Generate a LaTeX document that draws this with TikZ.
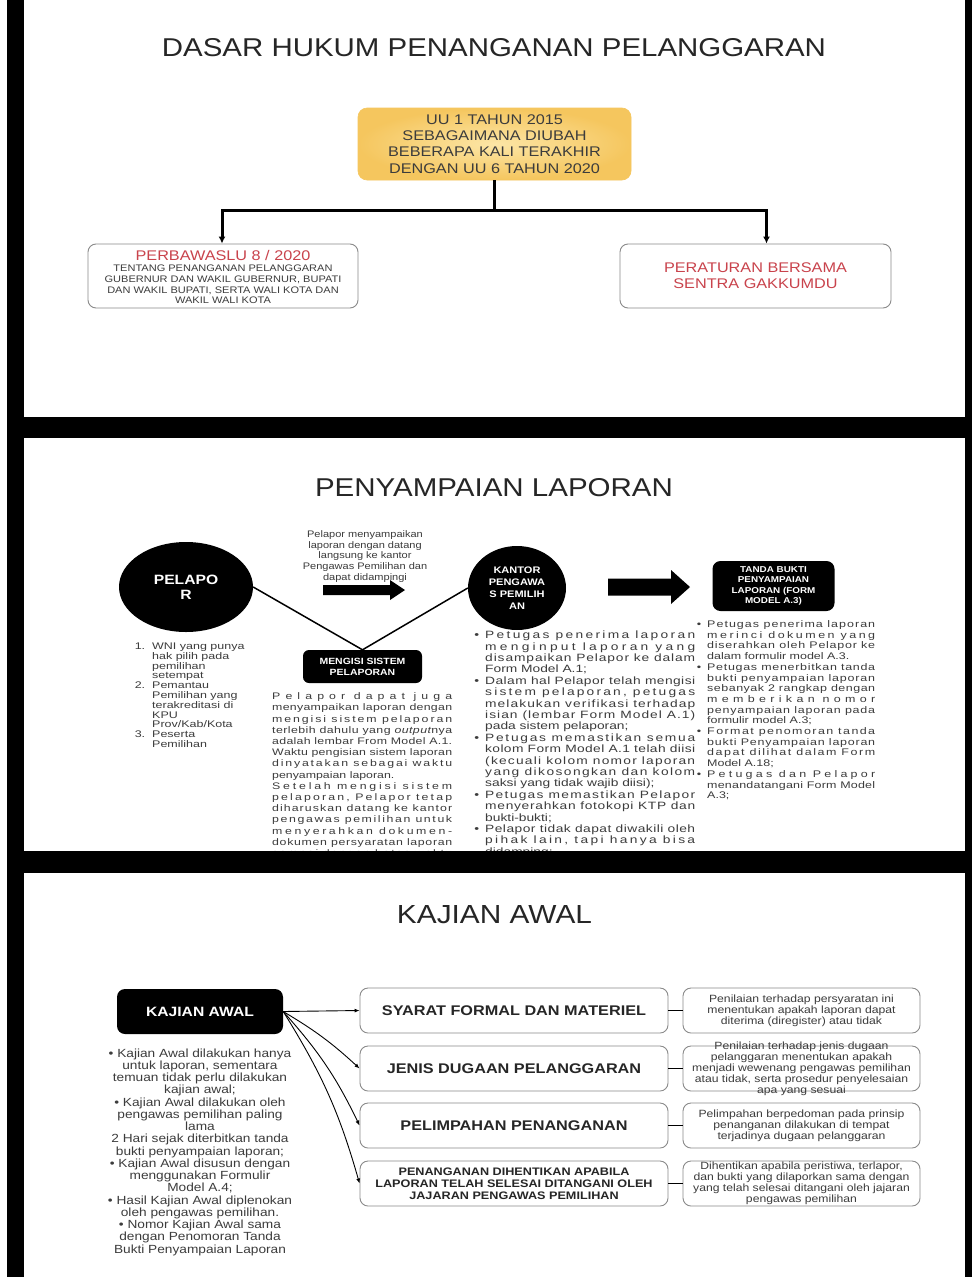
\documentclass[tikz,border=0pt]{standalone}
\usepackage{fontspec}
\usepackage{graphicx}
\setmainfont[FakeStretch=1.16]{Liberation Sans}
\newfontfamily\bodyf[FakeStretch=1.3]{Liberation Sans}
\usetikzlibrary{arrows.meta,shapes.geometric}
\definecolor{txt}{HTML}{3C3C3C}
\definecolor{ttl}{HTML}{262626}
\definecolor{redt}{HTML}{C9434C}
\definecolor{bord}{HTML}{8A8A8A}
\definecolor{yin}{HTML}{FCE6A6}
\definecolor{yout}{HTML}{F5C65E}
\newcommand\fsz[2]{\fontsize{#1}{#2}\selectfont}
\newlength\colw
\XeTeXinterchartoks 0 0 = {\hfil}
\XeTeXinterchartoks 0 4095 = {\hfil}
\newcommand\J[1]{\hbox to\colw{\XeTeXinterchartokenstate=1\relax#1\unskip}}
\newcommand\N[1]{\hbox to\colw{#1\hfil}}
\newcommand\BJ[1]{\hbox to\colw{\llap{\textbullet\hskip6pt}\XeTeXinterchartokenstate=1\relax#1\unskip}}
\newcommand\BN[1]{\hbox to\colw{\llap{\textbullet\hskip6pt}#1\hfil}}
\newcommand\NL[2]{\hbox to\colw{\llap{#1\hskip7pt}#2\hfil}}
\newcommand\ttlbox[3]{\resizebox{#1pt}{#2pt}{\fsz{25}{25}#3}}
\begin{document}
\begin{tikzpicture}[x=1pt,y=-1pt,
  wbox/.style={draw=bord,line width=0.9pt,rounded corners=8pt,fill=white,inner sep=0pt},
  bbox/.style={fill=black,rounded corners=6pt,inner sep=0pt,text=white,align=center},
  ball/.style={ellipse,fill=black,inner sep=0pt,text=white,align=center},
  para/.style={anchor=base west,inner sep=0pt,text=txt},
  ctext/.style={inner sep=0pt,text=txt,align=center},
  title/.style={inner sep=0pt,text=ttl},
  stem/.style={line width=3pt},
  tarrow/.style={line width=3pt,-{Latex[length=7pt,width=7pt]}},
  karrow/.style={line width=0.9pt,-{Latex[length=5pt,width=4pt]}},
  link/.style={line width=1.2pt},
  vline/.style={line width=1.5pt},
  midbox/.style={wbox,minimum width=308pt,minimum height=45pt,text=ttl,font=\fsz{14}{16}\bfseries},
  rbox/.style={wbox,minimum width=237pt,minimum height=45pt},
  rtext/.style={ctext,font=\fsz{10.5}{11}}]

\useasboundingbox (0,0) rectangle (972,1277);
\fill[white] (0,0) rectangle (972,1277);
\fill[black] (7,0) rectangle (972,1277);
\fill[white] (24,0) rectangle (965,417);
\fill[white] (24,438) rectangle (965,851);
\fill[white] (24,873) rectangle (965,1277);

% ---------- top panel
\node[title] (t1) at (494,47.5) {\ttlbox{664}{18}{DASAR HUKUM PENANGANAN PELANGGARAN}};
\node[rounded corners=9pt,inner color=yin,outer color=yout,draw=yout,line width=0.6pt,
      minimum width=273pt,minimum height=72pt,inner sep=0pt,align=center,text=txt,
      font=\fsz{14}{16.3}] (uu) at (494.5,144)
      {UU 1 TAHUN 2015\\SEBAGAIMANA DIUBAH\\BEBERAPA KALI TERAKHIR\\DENGAN UU 6 TAHUN 2020};
\node[wbox,minimum width=270pt,minimum height=64pt] (perb) at (223,276) {};
\node[inner sep=0pt,text=redt,font=\fsz{14}{16}] (perbt) at (223,255) {PERBAWASLU 8 / 2020};
\node[ctext,font=\fsz{9.5}{10.7}] (perbs) at (223,284.5)
      {TENTANG PENANGANAN PELANGGARAN\\GUBERNUR DAN WAKIL GUBERNUR, BUPATI\\DAN WAKIL BUPATI, SERTA WALI KOTA DAN\\WAKIL WALI KOTA};
\node[wbox,minimum width=271pt,minimum height=64pt,text=redt,align=center,font=\fsz{14}{16}] (pb) at (755.5,276)
      {PERATURAN BERSAMA\\SENTRA GAKKUMDU};
\coordinate (j) at (494.5,210);
\draw[stem] (uu.south) -- (j);
\draw[tarrow] (j) -| ([xshift=-1pt]perb.north);
\draw[tarrow] (j) -| ([xshift=11pt]pb.north);

% ---------- middle panel
\node[title] (t2) at (494,488) {\ttlbox{358}{18}{PENYAMPAIAN LAPORAN}};
\node[ball,minimum width=134pt,minimum height=90pt,font=\fsz{13.5}{15}\bfseries] (pel) at (186,587) {PELAPO\\R};
\node[ball,minimum width=98pt,minimum height=84pt,font=\fsz{9.5}{12}\bfseries] (kan) at (517,588) {KANTOR\\PENGAWA\\S PEMILIH\\AN};
\node[bbox,minimum width=119pt,minimum height=33pt,font=\fsz{9}{11}\bfseries] (mengisi) at (362.5,666.5) {MENGISI SISTEM\\PELAPORAN};
\node[bbox,rounded corners=8pt,minimum width=122pt,minimum height=50pt,font=\fsz{8.5}{10.5}\bfseries] (tanda) at (773.5,586)
      {TANDA BUKTI\\PENYAMPAIAN\\LAPORAN (FORM\\MODEL A.3)};
\draw[vline] (pel.east) -- (mengisi.north) -- (kan.west);
\node[ctext,font=\fsz{9.5}{10.8}] (lang) at (365,556.5)
      {Pelapor menyampaikan\\laporan dengan datang\\langsung ke kantor\\Pengawas Pemilihan dan\\dapat didampingi};
\fill (323,585) -- (390,585) -- (390,580) -- (405,590) -- (390,600) -- (390,595) -- (323,595) -- cycle;
\fill (608,578.5) -- (671,578.5) -- (671,570) -- (690,587) -- (671,604) -- (671,595.5) -- (608,595.5) -- cycle;

\node[para,font=\bodyf\fsz{9.6}{9.8}] (plist) at (152,649.5) {\setlength\colw{100pt}\vtop{\lineskiplimit=-100pt
  \NL{1.}{WNI yang punya}\NL{}{hak pilih pada}\NL{}{pemilihan}\NL{}{setempat}
  \NL{2.}{Pemantau}\NL{}{Pemilihan yang}\NL{}{terakreditasi di}\NL{}{KPU}\NL{}{Prov/Kab/Kota}
  \NL{3.}{Peserta}\NL{}{Pemilihan}}};

\node[para,font=\bodyf\fsz{9.5}{11.2}] (mpar) at (272,699.6) {\setlength\colw{180pt}\vtop{\lineskiplimit=-100pt
  \J{Pelapor dapat juga}\J{menyampaikan laporan dengan}\J{mengisi sistem pelaporan}
  \J{terlebih dahulu yang \textit{output}nya}\J{adalah lembar From Model A.1.}
  \J{Waktu pengisian sistem laporan}\J{dinyatakan sebagai waktu}\N{penyampaian laporan.}
  \J{Setelah mengisi sistem}\J{pelaporan, Pelapor tetap}\J{diharuskan datang ke kantor}
  \J{pengawas pemilihan untuk}\J{menyerahkan dokumen-}\J{dokumen persyaratan laporan}
  \J{sampai dengan batas waktu}}};

\node[para,font=\bodyf\fsz{10.6}{11.4}] (kpar) at (485,638.6) {\setlength\colw{210pt}\vtop{\lineskiplimit=-100pt
  \BJ{Petugas penerima laporan}\J{menginput laporan yang}\J{disampaikan Pelapor ke dalam}\N{Form Model A.1;}
  \BJ{Dalam hal Pelapor telah mengisi}\J{sistem pelaporan, petugas}\J{melakukan verifikasi terhadap}
  \J{isian (lembar Form Model A.1)}\N{pada sistem pelaporan;}
  \BJ{Petugas memastikan semua}\J{kolom Form Model A.1 telah diisi}\J{(kecuali kolom nomor laporan}
  \J{yang dikosongkan dan kolom}\N{saksi yang tidak wajib diisi);}
  \BJ{Petugas memastikan Pelapor}\J{menyerahkan fotokopi KTP dan}\N{bukti-bukti;}
  \BJ{Pelapor tidak dapat diwakili oleh}\J{pihak lain, tapi hanya bisa}\N{didamping;}}};

\node[para,font=\bodyf\fsz{9.6}{10.7}] (tpar) at (707,627.5) {\setlength\colw{168pt}\vtop{\lineskiplimit=-100pt
  \BJ{Petugas penerima laporan}\J{merinci dokumen yang}\J{diserahkan oleh Pelapor ke}\N{dalam formulir model A.3.}
  \BJ{Petugas menerbitkan tanda}\J{bukti penyampaian laporan}\J{sebanyak 2 rangkap dengan}
  \J{memberikan nomor}\J{penyampaian laporan pada}\N{formulir model A.3;}
  \BJ{Format penomoran tanda}\J{bukti Penyampaian laporan}\J{dapat dilihat dalam Form}\N{Model A.18;}
  \BJ{Petugas dan Pelapor}\J{menandatangani Form Model}\N{A.3;}}};

% ---------- bottom panel
\node[title] (t3) at (494.5,915) {\ttlbox{195}{18}{KAJIAN AWAL}};
\node[bbox,rounded corners=8pt,minimum width=166pt,minimum height=45pt,font=\fsz{13.5}{15}\bfseries] (kaj) at (200,1011.5) {KAJIAN AWAL};
\node[ctext,font=\fsz{11.8}{12.25}] (kajt) at (200,1152)
  {\textbullet\ Kajian Awal dilakukan hanya\\untuk laporan, sementara\\temuan tidak perlu dilakukan\\kajian awal;\\
   \textbullet\ Kajian Awal dilakukan oleh\\pengawas pemilihan paling\\lama\\2 Hari sejak diterbitkan tanda\\bukti penyampaian laporan;\\
   \textbullet\ Kajian Awal disusun dengan\\menggunakan Formulir\\Model A.4;\\
   \textbullet\ Hasil Kajian Awal diplenokan\\oleh pengawas pemilihan.\\
   \textbullet\ Nomor Kajian Awal sama\\dengan Penomoran Tanda\\Bukti Penyampaian Laporan};

\node[midbox] (b1) at (514,1010.5) {SYARAT FORMAL DAN MATERIEL};
\node[midbox] (b2) at (514,1068.5) {JENIS DUGAAN PELANGGARAN};
\node[midbox] (b3) at (514,1125.5) {PELIMPAHAN PENANGANAN};
\node[midbox,align=center,font=\fsz{10.9}{12}\bfseries] (b4) at (514,1183.5)
  {PENANGANAN DIHENTIKAN APABILA\\LAPORAN TELAH SELESAI DITANGANI OLEH\\JAJARAN PENGAWAS PEMILIHAN};

\node[rbox] (r1) at (801.5,1010.5) {};
\node[rbox] (r2) at (801.5,1068.5) {};
\node[rbox] (r3) at (801.5,1125.5) {};
\node[rbox] (r4) at (801.5,1183.5) {};
\node[rtext] (r1t) at (r1.center) {Penilaian terhadap persyaratan ini\\menentukan apakah laporan dapat\\diterima (diregister) atau tidak};
\node[rtext] (r2t) at (r2.center) {Penilaian terhadap jenis dugaan\\pelanggaran menentukan apakah\\menjadi wewenang pengawas pemilihan\\atau tidak, serta prosedur penyelesaian\\apa yang sesuai};
\node[rtext] (r3t) at (r3.center) {Pelimpahan berpedoman pada prinsip\\penanganan dilakukan di tempat\\terjadinya dugaan pelanggaran};
\node[rtext] (r4t) at (r4.center) {Dihentikan apabila peristiwa, terlapor,\\dan bukti yang dilaporkan sama dengan\\yang telah selesai ditangani oleh jajaran\\pengawas pemilihan};

\draw[karrow] (kaj.east) -- (b1.west);
\draw[karrow] (kaj.east) to[bend left=6] (b2.west);
\draw[karrow] (kaj.east) to[bend left=8] (b3.west);
\draw[karrow] (kaj.east) to[bend left=8] (b4.west);
\draw[link] (b1.east) -- (r1.west);
\draw[link] (b2.east) -- (r2.west);
\draw[link] (b3.east) -- (r3.west);
\draw[link] (b4.east) -- (r4.west);

% bands over overflow
\fill[black] (24,417) rectangle (965,438);
\fill[black] (24,851) rectangle (965,873);
\end{tikzpicture}
\end{document}
